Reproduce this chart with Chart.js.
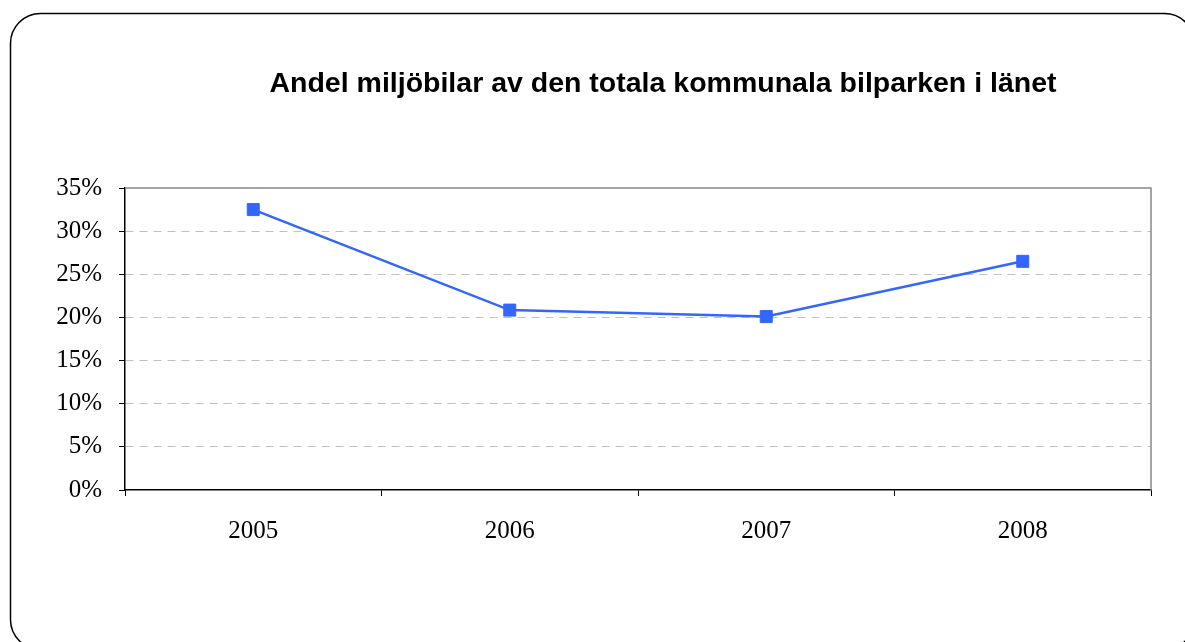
<!DOCTYPE html>
<html>
<head>
<meta charset="utf-8">
<script src="https://cdn.jsdelivr.net/npm/chart.js@4"></script>
<style>
  html, body { margin: 0; padding: 0; background: #ffffff; }
  #wrap { position: relative; width: 1185px; height: 642px; }
</style>
</head>
<body>
<div id="wrap"><canvas id="c" width="1185" height="642"></canvas></div>
<script>
const titleText = 'Andel miljöbilar av den totala kommunala bilparken i länet';
const years = ['2005', '2006', '2007', '2008'];
const shareValues = [32.5, 20.85, 20.1, 26.5];
const yTickValues = [0, 5, 10, 15, 20, 25, 30, 35];

const framePlugin = {
  id: 'frame',
  afterLayout(chart) {
    if (chart.titleBlock) {
      chart.titleBlock.left = 140;
      chart.titleBlock.right = 1186;
    }
  },
  beforeDraw(chart) {
    const ctx = chart.ctx;
    ctx.save();
    ctx.fillStyle = '#ffffff';
    ctx.fillRect(0, 0, chart.width, chart.height);
    ctx.strokeStyle = '#000000';
    ctx.lineWidth = 1.5;
    ctx.beginPath();
    ctx.roundRect(10.5, 13.5, 1184, 636, 30);
    ctx.stroke();
    ctx.restore();
  },
  beforeDatasetsDraw(chart) {
    const a = chart.chartArea;
    const ctx = chart.ctx;
    ctx.save();
    ctx.strokeStyle = '#888888';
    ctx.lineWidth = 1.5;
    ctx.beginPath();
    ctx.moveTo(a.left, a.top);
    ctx.lineTo(a.right, a.top);
    ctx.lineTo(a.right, a.bottom);
    ctx.stroke();
    ctx.restore();
  }
};

new Chart(document.getElementById('c'), {
  type: 'line',
  data: {
    labels: years,
    datasets: [{
      data: shareValues,
      borderColor: '#3366ff',
      backgroundColor: '#3366ff',
      borderWidth: 2.5,
      pointStyle: 'rect',
      pointRadius: 8.5,
      pointBorderWidth: 1,
      pointBorderColor: '#3366ff',
      pointBackgroundColor: '#3366ff',
      tension: 0,
      fill: false
    }]
  },
  options: {
    responsive: false,
    animation: false,
    devicePixelRatio: 1,
    layout: { padding: { top: 67, right: 34, bottom: 92, left: 0 } },
    plugins: {
      legend: { display: false },
      tooltip: { enabled: false },
      title: {
        display: true,
        text: titleText,
        color: '#000000',
        font: { family: '"Liberation Sans", Arial, sans-serif', size: 28.5, weight: 'bold' },
        padding: { top: 0, bottom: 86.8 }
      }
    },
    scales: {
      x: {
        offset: true,
        grid: {
          offset: true,
          drawOnChartArea: false,
          drawTicks: true,
          tickLength: 6,
          tickColor: '#000000',
          tickWidth: 1
        },
        border: { display: true, color: '#000000', width: 1.5 },
        ticks: {
          color: '#000000',
          font: { family: '"Liberation Serif", "Times New Roman", serif', size: 25 },
          padding: 20,
          maxRotation: 0
        },
        afterFit(scale) { scale.height = 60; }
      },
      y: {
        min: 0,
        max: 35,
        afterBuildTicks(scale) { scale.ticks = yTickValues.map(v => ({ value: v })); },
        grid: {
          color: (c) => (c.tick && (c.tick.value === 35 || c.tick.value === 0)) ? 'rgba(0,0,0,0)' : '#c0c0c0',
          lineWidth: 1,
          tickColor: '#000000',
          tickLength: 6,
          tickWidth: 1
        },
        border: { display: true, color: '#000000', width: 1.5, dash: [8, 6] },
        ticks: {
          color: '#000000',
          font: { family: '"Liberation Serif", "Times New Roman", serif', size: 25 },
          padding: 17,
          callback: (v) => v + '%'
        },
        afterFit(scale) { scale.width = 125; }
      }
    }
  },
  plugins: [framePlugin]
});
</script>
</body>
</html>
